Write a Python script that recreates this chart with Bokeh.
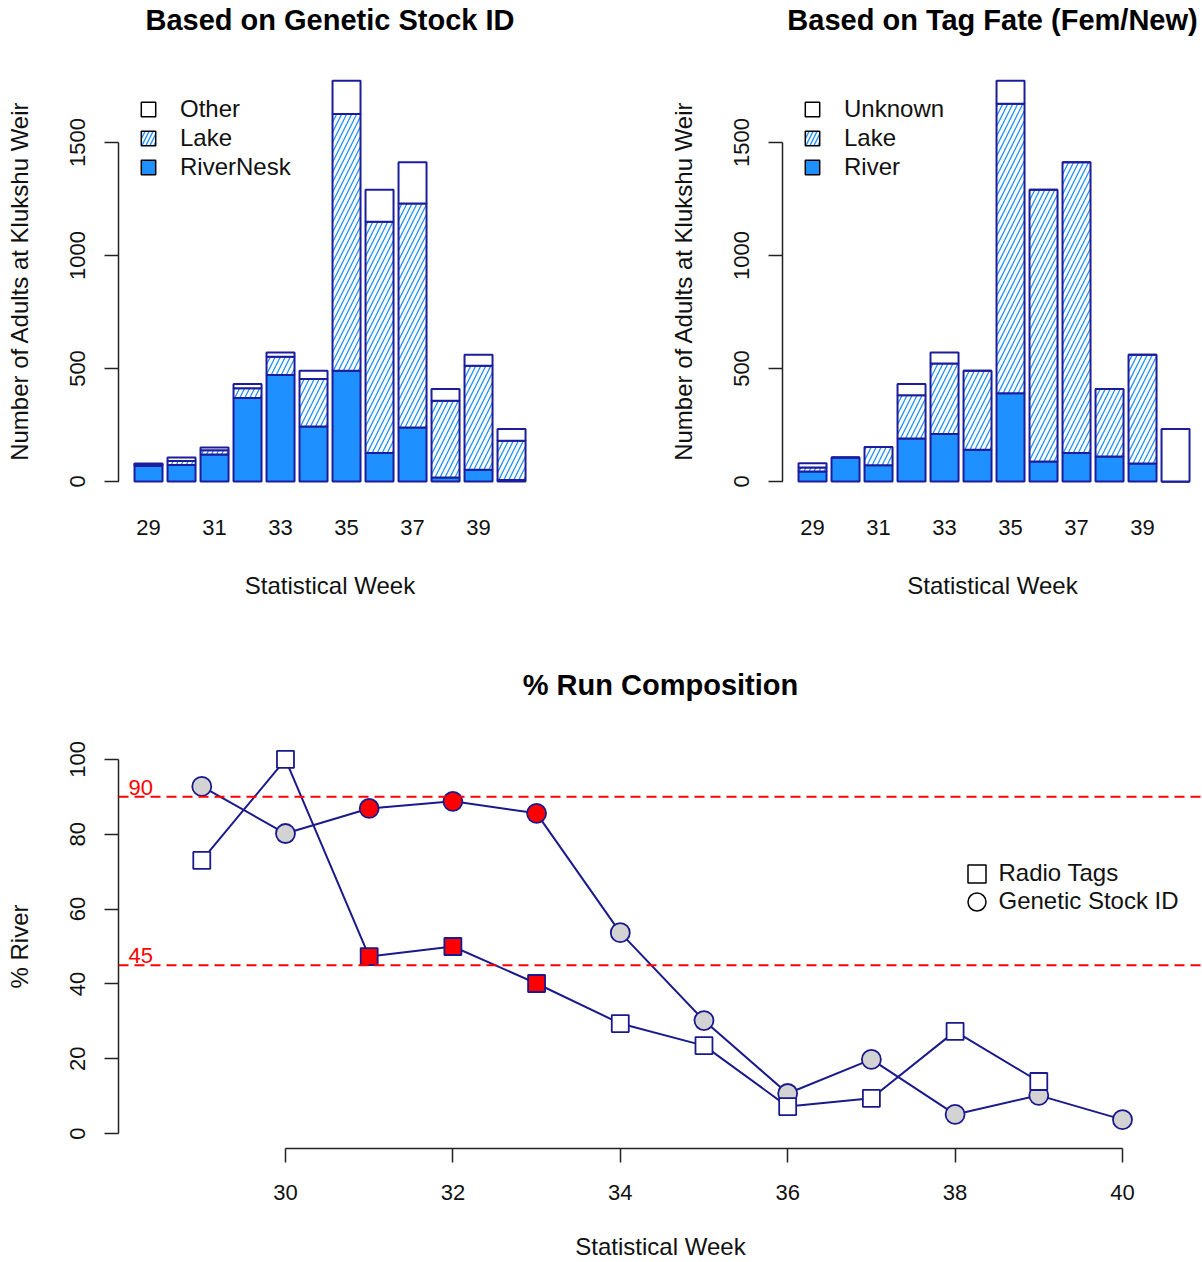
import numpy as np
from bokeh.plotting import figure
from bokeh.models import (ColumnDataSource, LinearAxis, FixedTicker, Range1d,
                          Legend, LegendItem, Span, Label, Title)
from bokeh.layouts import column, row
from bokeh.embed import file_html
from bokeh.resources import INLINE

# ---------------- data ----------------
weeks = [29, 30, 31, 32, 33, 34, 35, 36, 37, 38, 39, 40]
week_tick_labels = [29, 31, 33, 35, 37, 39]

# Genetic stock ID composition (counts)
gsi_river = [70, 73, 120, 369, 471, 243, 490, 126, 239, 18, 52, 7]
gsi_lake = [5, 18, 18, 44, 81, 210, 1136, 1023, 991, 339, 460, 173]
gsi_other = [5, 15, 12, 18, 19, 37, 147, 142, 182, 52, 49, 52]

# Tag fate composition (counts)
tag_river = [44, 106, 72, 190, 210, 140, 391, 88, 126, 111, 80, 0]
tag_lake = [18, 0, 81, 192, 312, 350, 1280, 1203, 1286, 298, 481, 0]
tag_unknown = [19, 0, 0, 49, 49, 0, 102, 0, 0, 0, 0, 232]

count_ticks = [0, 500, 1000, 1500]

# % run composition
radio_weeks = [29, 30, 31, 32, 33, 34, 35, 36, 37, 38, 39]
radio_pct = [73.0, 100.0, 47.3, 50.0, 40.1, 29.4, 23.5, 7.2, 9.4, 27.3, 13.9]
gsi_weeks = [29, 30, 31, 32, 33, 34, 35, 36, 37, 38, 39, 40]
gsi_pct = [92.8, 80.2, 86.9, 88.8, 85.6, 53.7, 30.2, 10.7, 19.8, 5.1, 10.2, 3.7]
highlight_weeks = [31, 32, 33]
thresholds = [90, 45]
pct_ticks = [0, 20, 40, 60, 80, 100]
pct_x_ticks = [30, 32, 34, 36, 38, 40]

# ---------------- style ----------------
FONT = "Liberation Sans"
EDGE = "#1c1c9c"
BLUE = "#1E90FF"
AXIS = "#222222"


def style_axis(ax, label_size="22px"):
    ax.axis_line_color = AXIS
    ax.axis_line_width = 1.5
    ax.major_tick_line_color = AXIS
    ax.major_tick_line_width = 1.5
    ax.major_tick_out = 14
    ax.major_tick_in = 0
    ax.minor_tick_line_color = None
    ax.major_label_text_font = FONT
    ax.major_label_text_font_size = label_size
    ax.major_label_text_color = "#111111"
    ax.axis_label_text_font = FONT
    ax.axis_label_text_font_size = "24px"
    ax.axis_label_text_font_style = "normal"
    ax.axis_label_text_color = "#111111"


def add_title(p, text, spacer_px):
    # an empty spacer title next to the frame pushes the real heading upward
    p.add_layout(Title(text=" ", text_font_size=f"{spacer_px}px", standoff=0), "above")
    p.add_layout(Title(text=text, align="center", text_font=FONT, text_font_size="29px",
                       text_font_style="bold", text_color="#000000", standoff=0), "above")


def bar_fig(title, river, lake, top_part, labels, width, border_left, border_right):
    frame_w = width - border_left - border_right
    frame_h = 433
    x_lo = 28.09
    x_hi = x_lo + frame_w / 33.0
    p = figure(width=width, height=630, output_backend="svg", toolbar_location=None,
               title=None,
               x_range=Range1d(x_lo, x_hi), y_range=Range1d(-70.8, 1845),
               min_border_left=border_left, min_border_right=border_right,
               min_border_top=64, min_border_bottom=133,
               x_axis_location=None, y_axis_location=None)
    p.outline_line_color = None
    p.grid.visible = False
    p.background_fill_color = "white"
    p.border_fill_color = "white"
    add_title(p, title, 24)

    r = np.array(river, dtype=float)
    l = np.array(lake, dtype=float)
    o = np.array(top_part, dtype=float)
    src = ColumnDataSource(dict(week=weeks, r_top=r, l_top=r + l, o_top=r + l + o))
    bw = 28.0 / 33.0
    p.vbar(x="week", width=bw, bottom=0, top="r_top", source=src,
           fill_color=BLUE, line_color=EDGE, line_width=2)
    p.vbar(x="week", width=bw, bottom="r_top", top="l_top", source=src,
           fill_color="white", hatch_pattern="/", hatch_color=BLUE,
           hatch_scale=10, hatch_weight=1.3, line_color=EDGE, line_width=2)
    p.vbar(x="week", width=bw, bottom="l_top", top="o_top", source=src,
           fill_color="white", line_color=EDGE, line_width=2)

    yax = LinearAxis(ticker=FixedTicker(ticks=count_ticks), bounds=(0, 1500),
                     axis_label="Number of Adults at Klukshu Weir")
    style_axis(yax)
    yax.major_label_orientation = "vertical"
    yax.major_label_standoff = 19
    yax.axis_label_standoff = 35
    p.add_layout(yax, "left")

    xax = LinearAxis(ticker=FixedTicker(ticks=week_tick_labels), axis_label="Statistical Week")
    style_axis(xax)
    xax.axis_line_color = None
    xax.major_tick_line_color = None
    xax.major_tick_out = 0
    xax.major_label_standoff = 22
    xax.axis_label_standoff = 34
    p.add_layout(xax, "below")

    # legend swatches: proxy renderers placed outside the visible x range
    off = dict(x=[x_lo - 10.0], top=[0.0])
    e1 = p.vbar(x=off["x"], top=off["top"], width=0.8, fill_color="white",
                line_color="black", line_width=1.5)
    e2 = p.vbar(x=off["x"], top=off["top"], width=0.8, fill_color="white", hatch_pattern="/",
                hatch_color=BLUE, hatch_scale=8, hatch_weight=1.4,
                line_color="black", line_width=1.5)
    e3 = p.vbar(x=off["x"], top=off["top"], width=0.8, fill_color=BLUE,
                line_color="black", line_width=1.5)
    leg = Legend(items=[LegendItem(label=labels[0], renderers=[e1]),
                        LegendItem(label=labels[1], renderers=[e2]),
                        LegendItem(label=labels[2], renderers=[e3])],
                 location=(21, frame_h - 31 - 86), orientation="vertical",
                 border_line_color=None, background_fill_alpha=0,
                 padding=0, margin=0, spacing=1,
                 glyph_width=18, glyph_height=18, label_standoff=23,
                 label_height=28, label_text_font=FONT, label_text_font_size="24px",
                 label_text_color="#111111")
    p.add_layout(leg, "center")
    return p


p1 = bar_fig("Based on Genetic Stock ID", gsi_river, gsi_lake, gsi_other,
             ["Other", "Lake", "RiverNesk"], width=601, border_left=118, border_right=60)
p2 = bar_fig("Based on Tag Fate (Fem/New)", tag_river, tag_lake, tag_unknown,
             ["Unknown", "Lake", "River"], width=601, border_left=181, border_right=0)

# ---------------- bottom panel ----------------
W3 = 1202
fw3 = W3 - 118
fh3 = 404
x3_lo = 28.005
x3_hi = x3_lo + fw3 / 83.7
p3 = figure(width=W3, height=632, output_backend="svg", toolbar_location=None,
            title=None,
            x_range=Range1d(x3_lo, x3_hi), y_range=Range1d(-4.01, 104.0),
            min_border_left=118, min_border_right=0, min_border_top=114, min_border_bottom=114,
            x_axis_location=None, y_axis_location=None)
p3.outline_line_color = None
p3.grid.visible = False
add_title(p3, "% Run Composition", 38)

for t in thresholds:
    p3.add_layout(Span(location=t, dimension="width", line_color="red",
                       line_dash="10 6", line_width=2))
    p3.add_layout(Label(x=x3_lo + 0.12, y=t, text=str(t), text_color="red",
                        text_font=FONT, text_font_size="22px",
                        text_baseline="bottom", y_offset=2))

LINE = "#1a1a8c"
p3.line(radio_weeks, radio_pct, line_color=LINE, line_width=2)
p3.line(gsi_weeks, gsi_pct, line_color=LINE, line_width=2)

radio_fill = ["red" if w in highlight_weeks else "white" for w in radio_weeks]
gsi_fill = ["red" if w in highlight_weeks else "#D3D3D3" for w in gsi_weeks]
p3.scatter(x=gsi_weeks, y=gsi_pct, marker="circle", size=19, fill_color=gsi_fill,
           line_color=LINE, line_width=1.8)
p3.scatter(x=radio_weeks, y=radio_pct, marker="square", size=17, fill_color=radio_fill,
           line_color=LINE, line_width=1.8)

yax3 = LinearAxis(ticker=FixedTicker(ticks=pct_ticks), bounds=(0, 100), axis_label="% River")
style_axis(yax3)
yax3.major_label_orientation = "vertical"
yax3.major_label_standoff = 19
yax3.axis_label_standoff = 35
p3.add_layout(yax3, "left")

xax3 = LinearAxis(ticker=FixedTicker(ticks=pct_x_ticks), bounds=(30, 40), axis_label="Statistical Week")
style_axis(xax3)
xax3.major_label_standoff = 22
xax3.axis_label_standoff = 30
p3.add_layout(xax3, "below")

# legend: one single-item legend per row so markers can be drawn full size
proxy_x = [x3_lo - 10.0]
proxy_y = [50.0]
l1 = p3.scatter(x=proxy_x, y=proxy_y, marker="square", size=18, fill_color=None,
                line_color="black", line_width=1.5)
l2 = p3.scatter(x=proxy_x, y=proxy_y, marker="circle", size=19, fill_color=None,
                line_color="black", line_width=1.5)
legend_rows = [("Radio Tags", l1, 252.5), ("Genetic Stock ID", l2, 224.5)]
for lab, rend, ypos in legend_rows:
    lg = Legend(items=[LegendItem(label=lab, renderers=[rend])],
                location=(835.5, ypos), border_line_color=None,
                background_fill_alpha=0, padding=0, margin=0, spacing=0,
                glyph_width=45, glyph_height=45, label_standoff=0, label_height=28,
                label_text_font=FONT, label_text_font_size="24px",
                label_text_color="#111111")
    p3.add_layout(lg, "center")

layout = column(row(p1, p2), p3)
open("out.html", "w").write(file_html(layout, INLINE))
